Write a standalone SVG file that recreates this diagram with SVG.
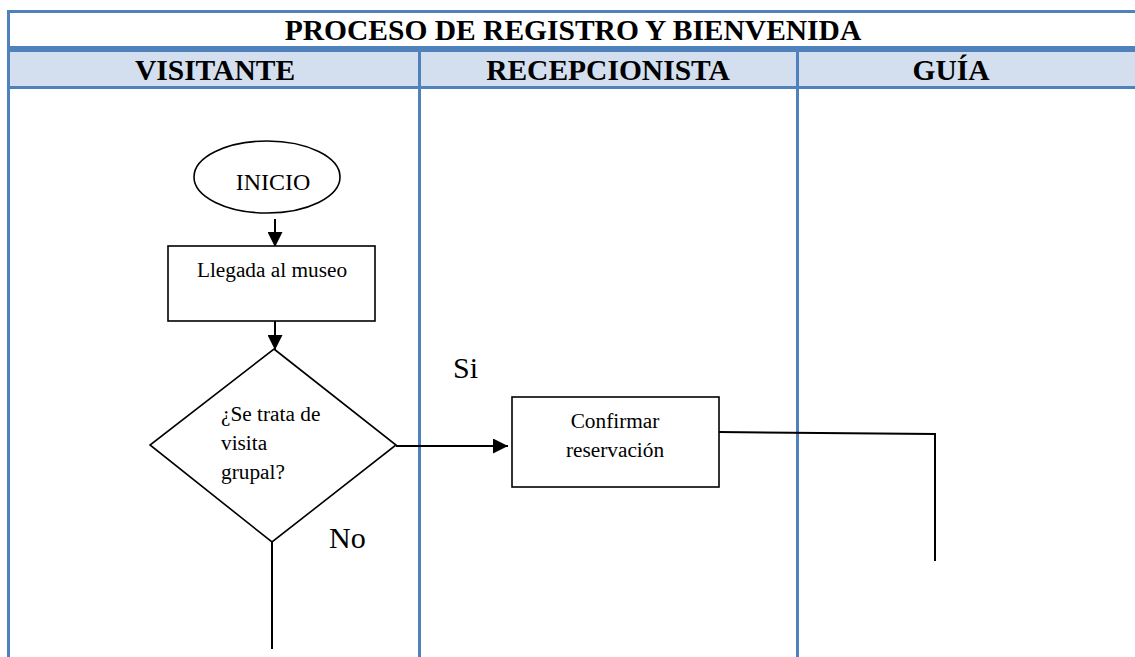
<svg xmlns="http://www.w3.org/2000/svg" width="1135" height="657" viewBox="0 0 1135 657">
<defs>
<style>
.tb{fill:#4F81BD;}
.hdr{fill:#D3DFEE;}
text{font-family:'Liberation Serif','Times New Roman',Tinos,'DejaVu Serif',serif;fill:#000;}
.ttl{font-weight:bold;font-size:29.5px;text-anchor:middle;}
.shape{fill:#fff;stroke:#000;stroke-width:1.6;}
.t{font-size:21.3px;}
.big{font-size:30px;}
.conn{fill:none;stroke:#000;stroke-width:2;}
</style>
<marker id="arr" markerWidth="15" markerHeight="15" refX="15" refY="7.5" orient="auto" markerUnits="userSpaceOnUse" viewBox="0 0 15 15">
<path d="M0,0 L15,7.5 L0,15 Z" fill="#000"/>
</marker>
</defs>
<rect width="1135" height="657" fill="#fff"/>
<g id="table">
<rect class="hdr" x="10" y="52" width="1125" height="34"/>
<rect class="tb" x="7" y="10" width="1128" height="3"/>
<rect class="tb" x="7" y="46" width="1128" height="6"/>
<rect class="tb" x="7" y="86" width="1128" height="3"/>
<rect class="tb" x="7" y="10" width="3" height="647"/>
<rect class="tb" x="418" y="52" width="3" height="605"/>
<rect class="tb" x="796" y="52" width="3" height="605"/>
<text class="ttl" x="573" y="40">PROCESO DE REGISTRO Y BIENVENIDA</text>
<text class="ttl" x="215" y="80">VISITANTE</text>
<text class="ttl" x="608" y="80">RECEPCIONISTA</text>
<text class="ttl" x="951" y="80">GUÍA</text>
</g>
<g id="connectors">
<line class="conn" x1="275" y1="219" x2="275" y2="247" marker-end="url(#arr)"/>
<line class="conn" x1="275" y1="321" x2="275" y2="350" marker-end="url(#arr)"/>
<line class="conn" x1="396" y1="446" x2="508" y2="446" marker-end="url(#arr)"/>
<line class="conn" x1="272" y1="542" x2="272" y2="649"/>
<polyline class="conn" points="719,432 935,434 935,561"/>
<text class="big" x="453" y="378">Si</text>
<text class="big" x="329" y="548">No</text>
</g>
<g id="inicio">
<ellipse class="shape" cx="267" cy="177" rx="73" ry="36"/>
<text class="t" x="273" y="190" text-anchor="middle" style="font-size:24px">INICIO</text>
</g>
<g id="llegada">
<rect class="shape" x="168" y="246" width="207" height="75"/>
<text class="t" x="272" y="277" text-anchor="middle">Llegada al museo</text>
</g>
<g id="decision">
<polygon class="shape" points="274,349 396,445 272,542 150,445"/>
<text class="t" x="221" y="421">¿Se trata de</text>
<text class="t" x="221" y="450">visita</text>
<text class="t" x="221" y="479">grupal?</text>
</g>
<g id="confirmar">
<rect class="shape" x="512" y="397" width="207" height="90"/>
<text class="t" x="615" y="428" text-anchor="middle">Confirmar</text>
<text class="t" x="615" y="457" text-anchor="middle">reservación</text>
</g>
</svg>
